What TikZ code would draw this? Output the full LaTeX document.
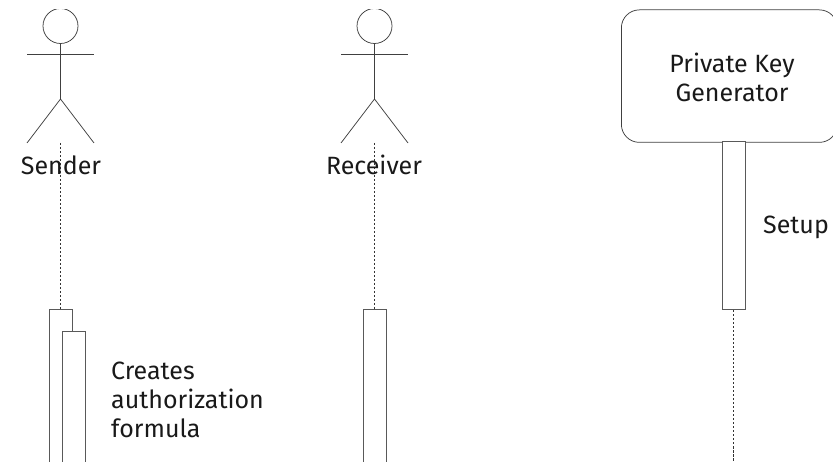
\documentclass[tikz,border=0pt]{standalone}
\usepackage{fontspec}
\setmainfont{Fira Sans}
\tikzset{
  x=1pt,y=-1pt,
  ln/.style={draw=black!75,line width=0.75pt},
  bar/.style={draw=black!65,line width=0.8pt,fill=white,minimum width=23pt,inner sep=0pt,anchor=north},
  life/.style={draw=black!80,line width=0.6pt,dash pattern=on 2.2pt off 1.8pt},
  lbl/.style={font=\fontsize{25pt}{29pt}\selectfont,text=black!90,inner sep=0pt,align=left}
}
\begin{document}
\begin{tikzpicture}
\useasboundingbox (0,0) rectangle (833,462);
\begin{scope}
\clip (0,10) rectangle (833,461);
% Sender
\node[circle,ln,minimum size=35pt,inner sep=0pt] (h1) at (60.5,26) {};
\coordinate (a1l) at (27,54); \coordinate (a1r) at (94,54);
\coordinate (hip1) at (60.5,99);
\coordinate (f1l) at (27,143); \coordinate (f1r) at (94,143);
\draw[ln] (h1.south) -- (hip1);
\draw[ln] (a1l) -- (a1r);
\draw[ln] (f1l) -- (hip1) -- (f1r);
% Receiver
\node[circle,ln,minimum size=35pt,inner sep=0pt] (h2) at (374.5,26) {};
\coordinate (a2l) at (341,54); \coordinate (a2r) at (408,54);
\coordinate (hip2) at (374.5,99);
\coordinate (f2l) at (341,143); \coordinate (f2r) at (408,143);
\draw[ln] (h2.south) -- (hip2);
\draw[ln] (a2l) -- (a2r);
\draw[ln] (f2l) -- (hip2) -- (f2r);
% Activation bars
\node[bar,minimum height=170pt] (s1) at (60.5,309.5) {};
\node[bar,minimum height=150pt] (s2) at (74,331) {};
\node[bar,minimum height=170pt] (r1) at (374.5,309.5) {};
% PKG
\node[draw=black!75,line width=0.75pt,rounded corners=18pt,minimum width=216pt,minimum height=132.5pt,inner sep=0pt,anchor=north west] (pkg) at (621,9.5) {};
\node[bar,minimum height=168pt] (g1) at (733.5,141.5) {};
% Lifelines
\coordinate (l1) at (60.5,143);
\coordinate (l2) at (374.5,143);
\coordinate (l3) at (733.5,461);
\draw[life] (l1) -- (s1.north);
\draw[life] (l2) -- (r1.north);
\draw[life] (g1.south) -- (l3);
\end{scope}
\node[lbl] (t1) at (61,165) {Sender};
\node[lbl] (t2) at (374,165) {Receiver};
\node[lbl,align=center] (t3) at (732,77) {Private Key\\Generator};
\node[lbl,anchor=west] (t4) at (763,227) {Setup};
\node[lbl,anchor=north west] (t5) at (111,361.5) {Creates\\authorization\\formula};
\end{tikzpicture}
\end{document}
